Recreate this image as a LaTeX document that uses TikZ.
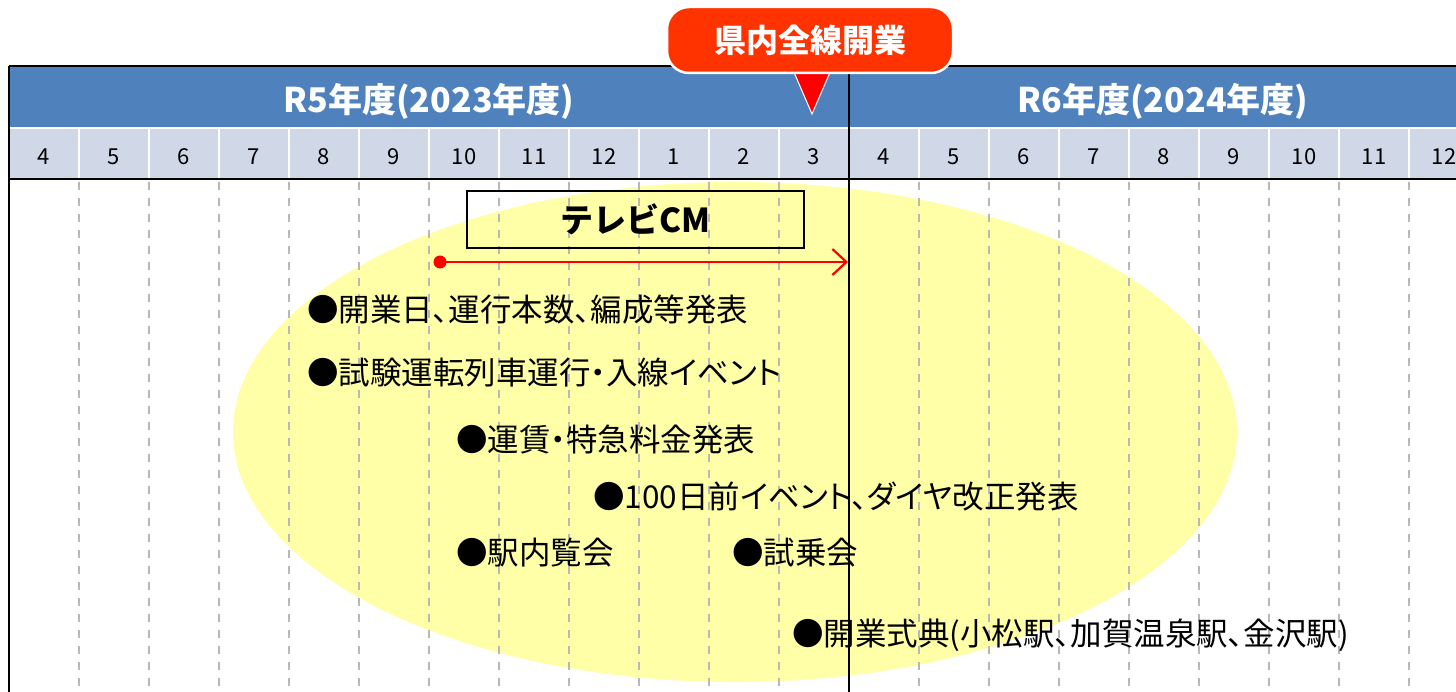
\documentclass[tikz,border=0pt]{standalone}
\usepackage{fontspec}
\newfontfamily\jp{Noto Sans CJK JP}
\newfontfamily\jpp[RawFeature=+palt]{Noto Sans CJK JP}
\usetikzlibrary{arrows.meta}
\definecolor{hdrblue}{HTML}{4F81BD}
\definecolor{monthbg}{HTML}{D0D8E8}
\definecolor{ellyellow}{HTML}{FFFFA8}
\definecolor{calloutred}{HTML}{FF3300}
\definecolor{gridgray}{HTML}{B8B8B8}
\tikzset{
  yeartxt/.style={font=\jp\bfseries\fontsize{34}{36}\selectfont, text=white, inner sep=0pt},
  monthtxt/.style={font=\jp\fontsize{22}{24}\selectfont, inner sep=0pt},
  item/.style={font=\jpp\fontsize{31.5}{33}\selectfont, anchor=west, inner sep=0pt},
  gridline/.style={gridgray, line width=1.3pt, dash pattern=on 8pt off 8pt},
}
\begin{document}
\begin{tikzpicture}[x=1pt,y=-1pt]
\useasboundingbox (0,0) rectangle (1456,692);
\begin{scope}
\clip (0,0) rectangle (1456,692);
% yellow ellipse
\fill[ellyellow] (735,432) ellipse [x radius=502, y radius=250];
% header
\fill[hdrblue] (9,66) rectangle (1460,128);
\fill[monthbg] (9,129) rectangle (1460,178);
\draw[white, line width=2pt] (9,128.5) -- (1460,128.5);
\foreach \i in {1,...,21} {
  \pgfmathsetmacro{\bx}{9+70*\i}
  \ifnum\i=12\else
    \draw[white, line width=2pt] (\bx,129) -- (\bx,178);
    \draw[gridline] (\bx,182) -- (\bx,692);
  \fi
}
\foreach \m [count=\i from 0] in {4,5,6,7,8,9,10,11,12,1,2,3,4,5,6,7,8,9,10,11,12} {
  \node[monthtxt] (m\i) at (44+70*\i,157) {\m};
}
\draw[black, line width=1.8pt] (9,66) -- (1460,66);
\draw[black, line width=2.5pt] (9,179) -- (1460,179);
\draw[black, line width=1.8pt] (9,66) -- (9,692);
\draw[black, line width=1.3pt] (849,66) -- (849,692);
\end{scope}
% year labels
\node[yeartxt] (y5) at (429,101) {R5年度(2023年度)};
\node[yeartxt] (y6) at (1163,101) {R6年度(2024年度)};
% callout
\fill[red, draw=white, line width=1pt] (793,70) -- (831,70) -- (812,114) -- cycle;
\node[draw=white, line width=2.5pt, fill=calloutred, rounded corners=22pt,
      minimum width=286pt, minimum height=66pt, inner sep=0pt,
      font=\jp\bfseries\fontsize{32}{34}\selectfont, text=white] (callout) at (810,40) {県内全線開業};
% TV CM
\node[draw=black, line width=2pt, minimum width=337pt, minimum height=57pt, inner sep=0pt,
      font=\jp\bfseries\fontsize{33}{35}\selectfont] (tvcm) at (635.5,219.5) {テレビCM};
\fill[red] (440,262) circle (6.5pt);
\coordinate (cmstart) at (440,262);
\coordinate (cmend) at (848,262);
\draw[red, line width=2.2pt, -{Straight Barb[length=14pt,width=26pt,line width=2.2pt]}] (cmstart) -- (cmend);
% items
\node[item] (i1) at (307,310) {●開業日、運行本数、編成等発表};
\node[item] (i2) at (307,373) {●試験運転列車運行・入線イベント};
\node[item] (i3) at (456,440) {●運賃・特急料金発表};
\node[item] (i4) at (593,497) {●100日前イベント、ダイヤ改正発表};
\node[item] (i5) at (456,553) {●駅内覧会};
\node[item] (i6) at (732,553) {●試乗会};
\node[item] (i7) at (792,635) {●開業式典(小松駅、加賀温泉駅、金沢駅)};
\end{tikzpicture}
\end{document}
